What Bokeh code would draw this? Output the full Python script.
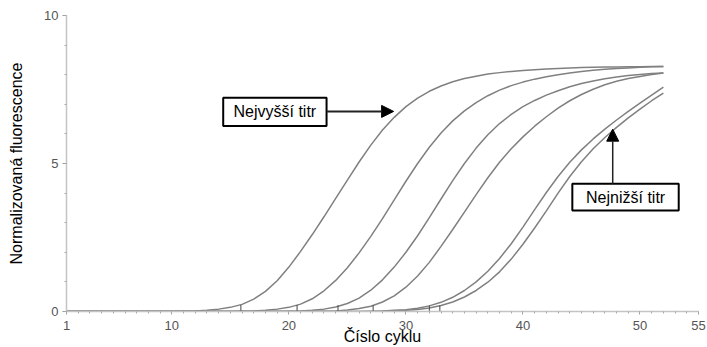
from bokeh.plotting import figure
from bokeh.models import Range1d, FixedTicker, BoxAnnotation, Label, Arrow, NormalHead
from bokeh.embed import file_html
from bokeh.resources import INLINE

cycles = list(range(1, 53))

curve1 = [0, 0, 0, 0, 0, 0, 0, 0, 0, 0,
          0.01, 0.02, 0.04, 0.08, 0.14, 0.24, 0.42, 0.68, 1.04, 1.5,
          2.03, 2.6, 3.2, 3.82, 4.44, 5.05, 5.62, 6.13, 6.56, 6.92,
          7.21, 7.44, 7.62, 7.76, 7.87, 7.95, 8.02, 8.07, 8.11, 8.14,
          8.17, 8.19, 8.21, 8.23, 8.24, 8.25, 8.26, 8.26, 8.27, 8.27,
          8.28, 8.28]
curve2 = [0, 0, 0, 0, 0, 0, 0, 0, 0, 0,
          0, 0, 0, 0, 0, 0.01, 0.02, 0.04, 0.08, 0.14,
          0.25, 0.43, 0.7, 1.05, 1.48, 1.98, 2.54, 3.14, 3.77, 4.4,
          5.0, 5.55, 6.03, 6.44, 6.78, 7.06, 7.29, 7.48, 7.63, 7.75,
          7.85, 7.93, 8.0, 8.06, 8.11, 8.15, 8.18, 8.21, 8.23, 8.25,
          8.27, 8.28]
curve3 = [0, 0, 0, 0, 0, 0, 0, 0, 0, 0,
          0, 0, 0, 0, 0, 0, 0, 0, 0, 0.01,
          0.02, 0.04, 0.08, 0.15, 0.27, 0.45, 0.72, 1.07, 1.5, 2.0,
          2.56, 3.17, 3.8, 4.42, 5.0, 5.52, 5.97, 6.35, 6.66, 6.92,
          7.13, 7.31, 7.46, 7.59, 7.7, 7.79, 7.86, 7.92, 7.97, 8.01,
          8.04, 8.06]
curve4 = [0, 0, 0, 0, 0, 0, 0, 0, 0, 0,
          0, 0, 0, 0, 0, 0, 0, 0, 0, 0,
          0, 0, 0.01, 0.02, 0.05, 0.1, 0.18, 0.32, 0.53, 0.82,
          1.2, 1.66, 2.2, 2.77, 3.36, 3.95, 4.52, 5.04, 5.5, 5.9,
          6.26, 6.58, 6.87, 7.12, 7.33, 7.51, 7.66, 7.78, 7.87, 7.94,
          8.01, 8.06]
curve5 = [0, 0, 0, 0, 0, 0, 0, 0, 0, 0,
          0, 0, 0, 0, 0, 0, 0, 0, 0, 0,
          0, 0, 0, 0, 0, 0, 0.01, 0.02, 0.04, 0.06,
          0.11, 0.19, 0.31, 0.48, 0.71, 1.0, 1.36, 1.79, 2.29, 2.85,
          3.44, 4.02, 4.56, 5.04, 5.46, 5.83, 6.16, 6.47, 6.76, 7.04,
          7.31, 7.58]
curve6 = [0, 0, 0, 0, 0, 0, 0, 0, 0, 0,
          0, 0, 0, 0, 0, 0, 0, 0, 0, 0,
          0, 0, 0, 0, 0, 0, 0, 0.01, 0.02, 0.04,
          0.07, 0.12, 0.2, 0.32, 0.49, 0.71, 0.99, 1.34, 1.77, 2.27,
          2.82, 3.4, 4.0, 4.56, 5.06, 5.5, 5.88, 6.22, 6.54, 6.84,
          7.12, 7.38]

ct_values = [15.9, 20.7, 24.2, 27.2, 32.0, 32.9]
ct_base = [0, 0, 0, 0, 0, 0]
ct_heights = [0.22, 0.22, 0.21, 0.21, 0.21, 0.21]

x_ticks = [1, 10, 20, 30, 40, 50, 55]
x_minor = list(range(1, 56))
y_ticks = [0, 5, 10]
y_minor = list(range(0, 11))

FONT = "Liberation Sans"

p = figure(width=707, height=347, output_backend="svg", toolbar_location=None,
           x_range=Range1d(1, 55), y_range=Range1d(0, 10),
           min_border_left=66, min_border_right=9, min_border_top=15,
           min_border_bottom=0, background_fill_color="white")

p.xgrid.visible = False
p.ygrid.visible = False
p.outline_line_color = None

for c in [curve1, curve2, curve3, curve4, curve5, curve6]:
    p.line(cycles, c, line_color="#808080", line_width=1.5)

p.segment(x0=ct_values, y0=ct_base, x1=ct_values, y1=ct_heights,
          line_color="#444444", line_width=1)

# axes
p.xaxis.ticker = FixedTicker(ticks=x_ticks, minor_ticks=x_minor)
p.yaxis.ticker = FixedTicker(ticks=y_ticks, minor_ticks=y_minor)
for ax in [p.xaxis[0], p.yaxis[0]]:
    ax.axis_line_color = "#c4c4c4"
    ax.axis_line_width = 1.5
    ax.major_tick_line_color = "#999999"
    ax.minor_tick_line_color = "#aaaaaa"
    ax.major_tick_in = 0
    ax.minor_tick_in = 0
    ax.major_tick_out = 4
    ax.minor_tick_out = 2
    ax.major_label_text_font = FONT
    ax.major_label_text_font_size = "13px"
    ax.major_label_text_color = "#555555"
    ax.axis_label_text_font = FONT
    ax.axis_label_text_font_size = "16px"
    ax.axis_label_text_font_style = "normal"
    ax.axis_label_text_color = "black"

p.xaxis.axis_label = "Číslo cyklu"
p.yaxis.axis_label = "Normalizovaná fluorescence"
p.xaxis.major_tick_out = 3
p.xaxis.major_label_standoff = 6
p.xaxis.axis_label_standoff = -5
p.yaxis.major_label_standoff = 4
p.yaxis.axis_label_standoff = 16

# annotations
box1 = BoxAnnotation(left=14.39, right=23.22, bottom=6.27, top=7.22,
                     fill_color="white", fill_alpha=1.0,
                     line_color="black", line_width=2, line_alpha=1.0)
box2 = BoxAnnotation(left=44.22, right=53.31, bottom=3.41, top=4.32,
                     fill_color="white", fill_alpha=1.0,
                     line_color="black", line_width=2, line_alpha=1.0)
p.add_layout(box1)
p.add_layout(box2)

p.add_layout(Label(x=18.8, y=6.745, text="Nejvyšší titr", text_align="center",
                   text_baseline="middle", text_font=FONT, text_font_size="16px",
                   text_color="black"))
p.add_layout(Label(x=48.77, y=3.865, text="Nejnižší titr", text_align="center",
                   text_baseline="middle", text_font=FONT, text_font_size="16px",
                   text_color="black"))

p.add_layout(Arrow(end=NormalHead(size=12, fill_color="black", line_color="black"),
                   x_start=23.22, y_start=6.76, x_end=28.95, y_end=6.76,
                   line_width=2, line_color="#222222"))
p.add_layout(Arrow(end=NormalHead(size=12, fill_color="black", line_color="black"),
                   x_start=47.67, y_start=4.32, x_end=47.67, y_end=6.16,
                   line_width=1.5, line_color="#222222"))

open("out.html", "w").write(file_html(p, INLINE))
